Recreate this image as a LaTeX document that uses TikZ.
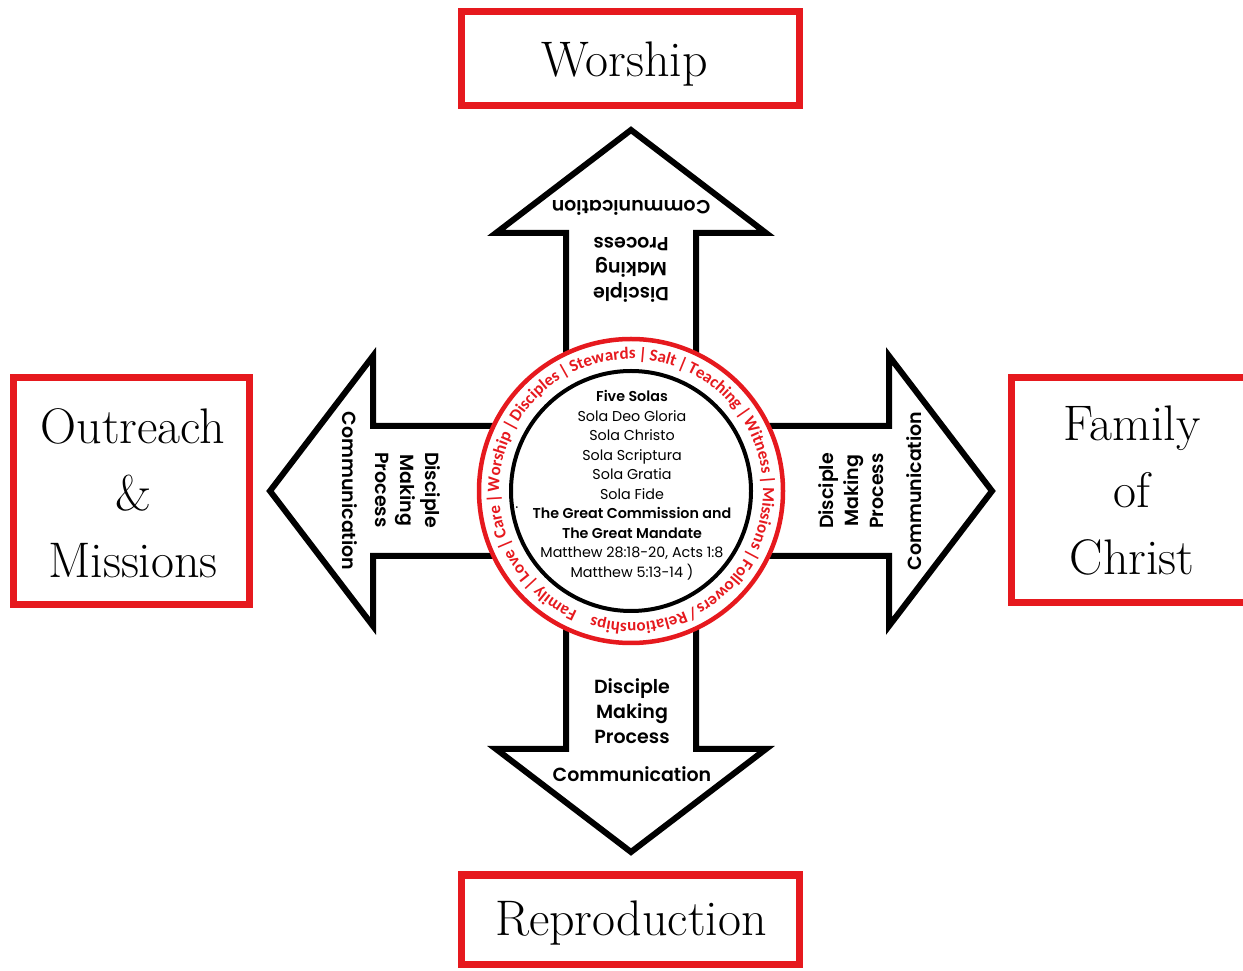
\documentclass[tikz,border=0pt]{standalone}
\usepackage{fontspec}
\newfontfamily\uifont{Poppins}[BoldFont={* SemiBold}]
\newfontfamily\ringfont{Carlito}
\usetikzlibrary{decorations.text}
\definecolor{boxred}{RGB}{230,25,30}
\begin{document}
\begin{tikzpicture}[x=1pt,y=1pt,
  titlebox/.style={draw=boxred, line width=7pt, fill=white},
  titletext/.style={font=\fontsize{50}{67}\selectfont, align=center, inner sep=0pt},
  bigarrow/.style={draw=black, line width=6pt, fill=white, line join=miter, miter limit=10},
  armtext/.style={font=\uifont\bfseries\fontsize{19}{25}\selectfont, align=center, inner sep=0pt},
  coretext/.style={font=\uifont\fontsize{14.3}{19.5}\selectfont, align=center, inner sep=0pt},
  ringline/.style={draw=boxred, line width=4.5pt, fill=white},
  innerline/.style={draw=black, line width=4pt},
]
\useasboundingbox (0,0) rectangle (1243,970);
\coordinate (c) at (631,479);

% title boxes
\draw[titlebox] (461,864) rectangle (799,958);
\node[titletext, anchor=base] (worship) at (625,893) {Worship};
\draw[titlebox] (461,6) rectangle (799,95);
\node[titletext, anchor=base] (reproduction) at (631,35) {Reproduction};
\draw[titlebox] (13,365) rectangle (249,592);
\node[titletext] (outreach) at (133,477) {Outreach\\\&\\Missions};
\draw[titlebox] (1011,367) rectangle (1247,592);
\node[titletext] (family) at (1132,479) {Family\\of\\Christ};

% four arrows
\foreach \a in {0,90,180,270}
  \draw[bigarrow, shift={(c)}, rotate=\a]
    (0,-65) -- (258,-65) -- (258,-135) -- (361,0) -- (258,135) -- (258,65) -- (0,65) -- cycle;

% central circle
\draw[ringline] (c) circle[radius=152];
\draw[innerline] (c) circle[radius=120];
\path[decorate, decoration={text along path, text format delimiters={[}{]},
  text color=boxred,
  text={[\ringfont\bfseries\fontsize{17}{17}\selectfont\fontdimen2\font=0.15em]Family | Love | Care | Worship | Disciples | Stewards | Salt | Teaching | Witness | Missions | Followers / Relationships |},
  text align={fit to path}}]
  (c) ++(246:132) arc[start angle=246, end angle=-109, radius=132];

\node[coretext] (core) at (632,485) {\textbf{Five Solas}\\Sola Deo Gloria\\Sola Christo\\Sola Scriptura\\Sola Gratia\\Sola Fide\\\textbf{The Great Commission and}\\\textbf{The Great Mandate}\\Matthew 28:18-20, Acts 1:8\\Matthew 5:13-14 )};
\node[coretext] (bullet) at (517,460) {·};

% arrow texts
\node[armtext, rotate=180] (upmaking) at (631,700) {Disciple\\Making\\Process};
\node[armtext, rotate=180] (upcomm) at (631,762) {Communication};
\node[armtext] (downmaking) at (632,259) {Disciple\\Making\\Process};
\node[armtext] (downcomm) at (632,196) {Communication};
\node[armtext, rotate=-90] (leftmaking) at (408,480) {Disciple\\Making\\Process};
\node[armtext, rotate=-90] (leftcomm) at (350,479) {Communication};
\node[armtext, rotate=90] (rightmaking) at (851,479) {Disciple\\Making\\Process};
\node[armtext, rotate=90] (rightcomm) at (914,479) {Communication};
\end{tikzpicture}
\end{document}
